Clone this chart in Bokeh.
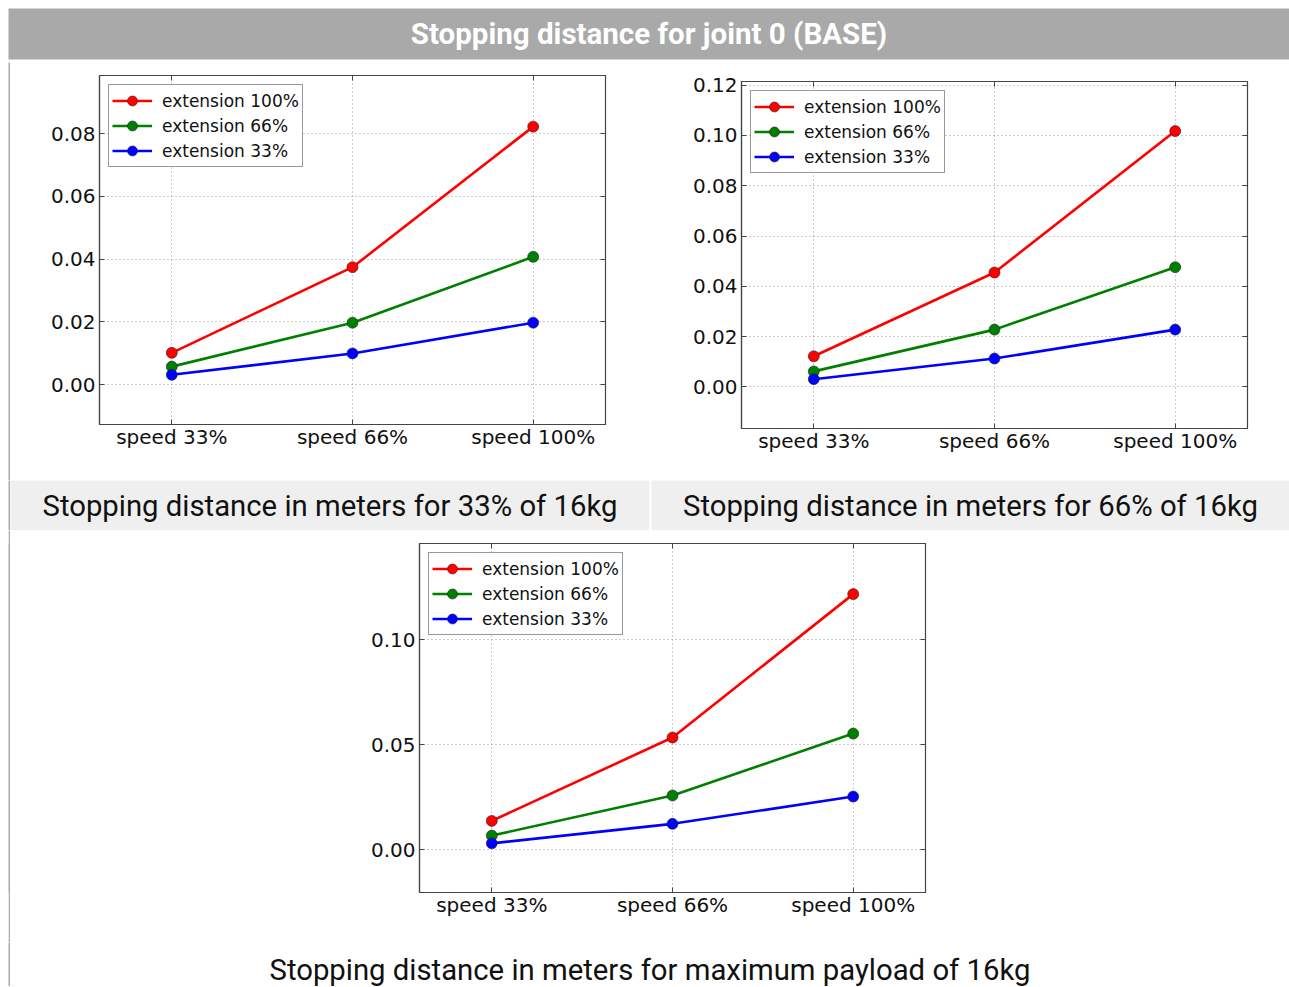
from bokeh.plotting import figure
from bokeh.layouts import column, row
from bokeh.models import (Range1d, FixedTicker, NumeralTickFormatter, Label, Legend,
                          LegendItem, LinearAxis, CustomJSTickFormatter, Spacer)
from bokeh.embed import file_html
from bokeh.resources import INLINE

# ---------------- data ----------------
page_title = "Stopping distance for joint 0 (BASE)"
categories = ["speed 33%", "speed 66%", "speed 100%"]
series_names = ["extension 100%", "extension 66%", "extension 33%"]
series_colors = ["#ff0000", "#008000", "#0000ff"]

# payload 33% of 16kg
load33_ext100 = [0.0101, 0.0374, 0.0822]
load33_ext66 = [0.0057, 0.0197, 0.0407]
load33_ext33 = [0.0031, 0.0099, 0.0197]
load33_yticks = [0.00, 0.02, 0.04, 0.06, 0.08]
load33_caption = "Stopping distance in meters for 33% of 16kg"

# payload 66% of 16kg
load66_ext100 = [0.0122, 0.0455, 0.1017]
load66_ext66 = [0.0062, 0.0228, 0.0476]
load66_ext33 = [0.0031, 0.0113, 0.0228]
load66_yticks = [0.00, 0.02, 0.04, 0.06, 0.08, 0.10, 0.12]
load66_caption = "Stopping distance in meters for 66% of 16kg"

# maximum payload 16kg
loadmax_ext100 = [0.0137, 0.0534, 0.1217]
loadmax_ext66 = [0.0067, 0.0258, 0.0553]
loadmax_ext33 = [0.0030, 0.0123, 0.0253]
loadmax_yticks = [0.00, 0.05, 0.10]
loadmax_caption = "Stopping distance in meters for maximum payload of 16kg"

FRAME = "#444444"
GRID = "#9a9a9a"
TICK_FONT = "DejaVu Sans"
BAR_GRAY = "#a9a9a9"


def make_plot(series, yr, yticks, w, h, ml, mr, mt, mb):
    xs = list(range(len(categories)))
    p = figure(width=w, height=h, x_range=Range1d(-0.4, 2.4), y_range=Range1d(*yr),
               toolbar_location=None, output_backend="svg",
               min_border_left=ml, min_border_right=mr, min_border_top=mt, min_border_bottom=mb)
    p.background_fill_color = "white"
    p.border_fill_color = "white"
    p.outline_line_color = FRAME
    p.outline_line_width = 1.2

    items = []
    for name, vals, color in zip(series_names, series, series_colors):
        ln = p.line(xs, vals, line_color=color, line_width=2.6)
        sc = p.scatter(xs, vals, size=11, fill_color=color, line_color="#222222", line_width=0.6)
        items.append(LegendItem(label=name, renderers=[ln, sc]))

    legend = Legend(items=items, location="top_left")
    legend.margin = 9
    legend.padding = 3
    legend.spacing = 0
    legend.glyph_width = 40
    legend.glyph_height = 25
    legend.label_height = 25
    legend.label_standoff = 10
    legend.label_text_font = TICK_FONT
    legend.label_text_font_size = "17px"
    legend.label_text_color = "#111111"
    legend.border_line_color = "#333333"
    legend.border_line_width = 1.2
    legend.background_fill_color = "white"
    legend.background_fill_alpha = 1.0
    p.add_layout(legend)

    xt = FixedTicker(ticks=xs)
    yt = FixedTicker(ticks=yticks)
    p.xaxis.ticker = xt
    p.xaxis.major_label_overrides = {i: c for i, c in enumerate(categories)}
    p.yaxis.ticker = yt
    p.yaxis.formatter = NumeralTickFormatter(format="0.00")
    for ax in (p.xaxis[0], p.yaxis[0]):
        ax.major_tick_in = 5
        ax.major_tick_out = 0
        ax.minor_tick_line_color = None
        ax.major_tick_line_color = FRAME
        ax.axis_line_color = FRAME
        ax.axis_line_width = 1.2
        ax.major_label_text_font = TICK_FONT
        ax.major_label_text_font_size = "20px"
        ax.major_label_text_color = "#111111"
    p.yaxis.major_label_standoff = 4
    p.xaxis.major_label_standoff = 0

    # inward ticks on the top and right sides (matplotlib classic style)
    blank = CustomJSTickFormatter(code="return ''")
    top = LinearAxis(ticker=xt, formatter=blank, major_tick_in=5, major_tick_out=0,
                     minor_tick_line_color=None, major_tick_line_color=FRAME,
                     axis_line_color=FRAME, major_label_standoff=0,
                     major_label_text_font_size="1px")
    right = LinearAxis(ticker=yt, formatter=blank, major_tick_in=5, major_tick_out=0,
                       minor_tick_line_color=None, major_tick_line_color=FRAME,
                       axis_line_color=FRAME, major_label_standoff=0,
                       major_label_text_font_size="1px")
    p.add_layout(top, "above")
    p.add_layout(right, "right")

    p.xgrid.grid_line_color = GRID
    p.xgrid.grid_line_dash = "1 3"
    p.ygrid.grid_line_color = GRID
    p.ygrid.grid_line_dash = "1 3"
    return p


def text_fig(w, h, text, bg, color, size, style="normal", ml=0, mr=0, mb=0, ty=0.5):
    p = figure(width=w, height=h, x_range=Range1d(0, 1), y_range=Range1d(0, 1),
               x_axis_location=None, y_axis_location=None, toolbar_location=None,
               output_backend="svg", min_border_left=ml, min_border_right=mr,
               min_border_top=0, min_border_bottom=mb)
    p.background_fill_color = bg
    p.border_fill_color = "white"
    p.outline_line_color = None
    p.grid.visible = False
    p.add_layout(Label(x=0.5, y=ty, text=text, text_align="center", text_baseline="middle",
                       text_font="Roboto", text_font_size=size, text_font_style=style,
                       text_color=color))
    return p


def strip(w, h, color):
    p = figure(width=w, height=h, x_range=Range1d(0, 1), y_range=Range1d(0, 1),
               x_axis_location=None, y_axis_location=None, toolbar_location=None,
               output_backend="svg", min_border=0)
    p.background_fill_color = color
    p.border_fill_color = color
    p.outline_line_color = None
    p.grid.visible = False
    return p


header = text_fig(1281, 53, page_title, BAR_GRAY, "white", "29.5px", style="bold", mb=2)
header_rule = strip(1281, 1, "#dcdcdc")

f1 = make_plot([load33_ext100, load33_ext66, load33_ext33], (-0.01275, 0.0985), load33_yticks,
               640, 418, 89, 45, 13, 56)
f2 = make_plot([load66_ext100, load66_ext66, load66_ext33], (-0.0165, 0.1214), load66_yticks,
               639, 418, 91, 42, 19, 52)
c1 = text_fig(640, 50, load33_caption, "#efefef", "#111111", "29.3px", mr=1)
c2 = text_fig(639, 50, load66_caption, "#efefef", "#111111", "29.3px", ml=1)
f3 = make_plot([loadmax_ext100, loadmax_ext66, loadmax_ext33], (-0.0204, 0.1458), loadmax_yticks,
               1279, 412, 409, 364, 13, 50)
c3 = text_fig(1279, 45, loadmax_caption, "white", "#111111", "29.3px", ty=0.4)

body = column(
    header,
    header_rule,
    row(strip(2, 418, BAR_GRAY), column(f1), column(f2)),
    row(strip(2, 50, BAR_GRAY), c1, c2),
    row(strip(2, 412, BAR_GRAY), f3),
    row(strip(2, 44, BAR_GRAY), c3),
)

layout = column(Spacer(height=8), row(Spacer(width=8), body))

open("out.html", "w").write(file_html(layout, INLINE))
